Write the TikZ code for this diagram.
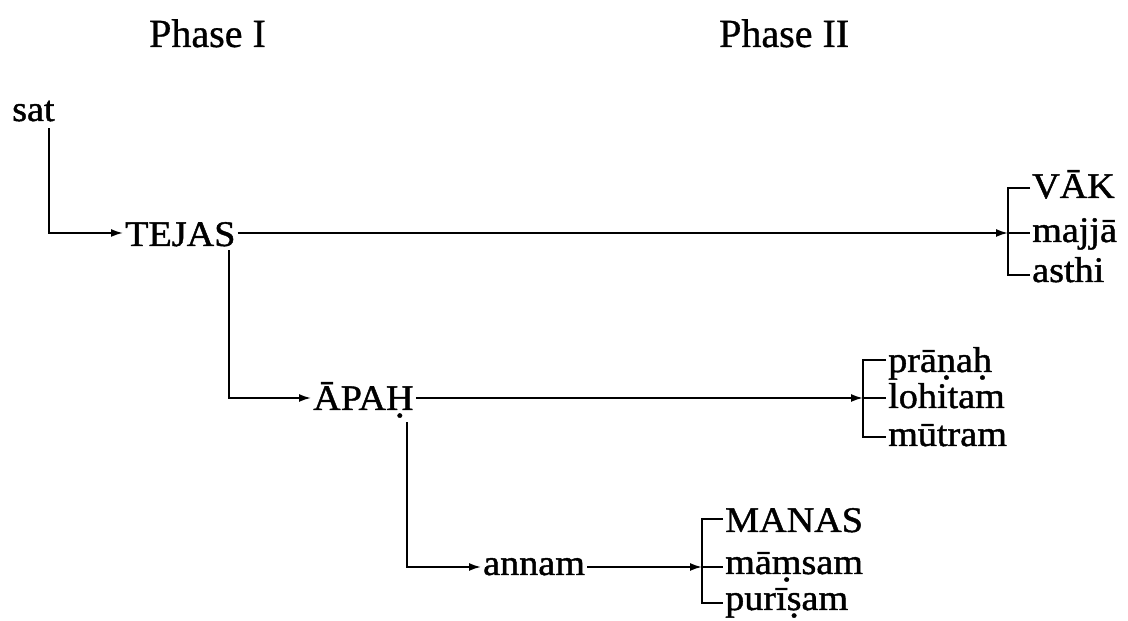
\documentclass[tikz,border=0pt]{standalone}
\usepackage{fontspec}
\setmainfont{Liberation Serif}
\newfontfamily\labfamily[FakeStretch=1.06,FakeBold=1.2]{Liberation Serif}
\newfontfamily\phasefamily[FakeBold=0.8]{Liberation Serif}
\newcommand\labfont{\labfamily\fontsize{36}{42}\selectfont}
\newcommand\phasefont{\phasefamily\fontsize{40}{48}\selectfont}
\newcommand\udot[1]{\ooalign{#1\cr\hidewidth\raisebox{-0.2em}{.}\hidewidth\cr}}
\usetikzlibrary{arrows.meta}
\tikzset{
  lab/.style={font=\labfont, inner ysep=0pt, inner xsep=2pt, text depth=0pt, anchor=base west},
  phase/.style={font=\phasefont, inner sep=0pt, anchor=base west},
  conn/.style={line width=1.8pt, line join=miter},
  arr/.style={conn, -{Latex[length=12pt,width=8pt]}}
}
\begin{document}
\begin{tikzpicture}[x=1pt,y=1pt]
\useasboundingbox (0,0) rectangle (1128,621);
% phase headings
\node[phase] (ph1) at (149,574) {Phase I};
\node[phase] (ph2) at (719,574) {Phase II};
% main chain
\node[lab] (sat) at (10,500) {sat};
\node[lab] (tejas) at (123,375) {TEJAS};
\node[lab] (apah) at (311,211) {ĀPA\udot{H}};
\node[lab] (annam) at (481,46) {annam};
% bracket 1
\node[lab] (vak) at (1030,423) {VĀK};
\node[lab] (majja) at (1030,379) {majjā};
\node[lab] (asthi) at (1030,339) {asthi};
% bracket 2
\node[lab] (prana) at (886,249) {prā\udot{n}a\udot{h}};
\node[lab] (lohitam) at (886,213) {lohitam};
\node[lab] (mutram) at (886,175) {mūtram};
% bracket 3
\node[lab] (manas) at (723,89) {MANAS};
\node[lab] (mamsam) at (723,47) {mā\udot{m}sam};
\node[lab] (purisam) at (723,11) {purī\udot{s}am};
% corner coordinates
\coordinate (c1) at (49,388);
\coordinate (c2) at (229,223);
\coordinate (c3) at (407,54);
\coordinate (b1t) at (1008,433);
\coordinate (b1m) at (1008,388);
\coordinate (b1b) at (1008,346);
\coordinate (b2t) at (863,261);
\coordinate (b2m) at (863,223);
\coordinate (b2b) at (863,184);
\coordinate (b3t) at (702,102);
\coordinate (b3m) at (702,54);
\coordinate (b3b) at (702,18);
% Phase I connectors
\draw[arr, shorten <=7pt] (sat.south -| c1) -- (c1) -- (tejas.west |- c1);
\draw[arr, shorten <=4pt] (tejas.south -| c2) -- (c2) -- (apah.west |- c2);
\draw[arr, shorten <=12pt] (apah.south -| c3) -- (c3) -- (annam.west |- c3);
% Phase II connectors
\draw[arr] (tejas.east |- b1m) -- (b1m);
\draw[arr] (apah.east |- b2m) -- (b2m);
\draw[arr] (annam.east |- b3m) -- (b3m);
% brackets
\draw[conn] (vak.west |- b1t) -- (b1t) -- (b1b) -- (asthi.west |- b1b);
\draw[conn] (b1m) -- (majja.west |- b1m);
\draw[conn] (prana.west |- b2t) -- (b2t) -- (b2b) -- (mutram.west |- b2b);
\draw[conn] (b2m) -- (lohitam.west |- b2m);
\draw[conn] (manas.west |- b3t) -- (b3t) -- (b3b) -- (purisam.west |- b3b);
\draw[conn] (b3m) -- (mamsam.west |- b3m);
\end{tikzpicture}
\end{document}
